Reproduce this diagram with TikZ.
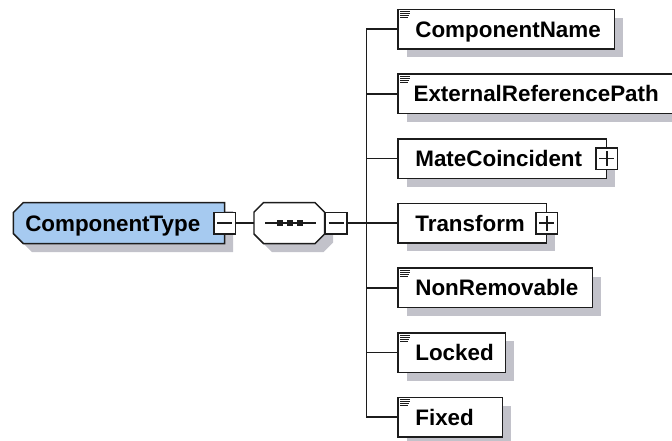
\documentclass[tikz,border=0pt]{standalone}
\usepackage{fontspec}
\setmainfont{Liberation Sans}
\usetikzlibrary{calc,shadows}

\definecolor{edge}{RGB}{28,28,28}
\definecolor{shadowgray}{RGB}{194,194,202}
\definecolor{ctfill}{RGB}{166,202,240}

\begin{document}
\begin{tikzpicture}[x=0.75pt,y=-0.75pt,
  edgeline/.style={draw=edge, line width=1.1pt},
  conn/.style={draw=edge, line width=1.1pt},
  anchorbox/.style={anchor=north west, inner sep=0pt, minimum height=40.4*0.75pt},
  elembox/.style={edgeline, fill=white, inner sep=0pt, anchor=north west,
    minimum height=39.5*0.75pt,
    drop shadow={shadow xshift=6.375pt, shadow yshift=-6.375pt, fill=shadowgray, opacity=1}},
  elemlabel/.style={font=\bfseries\fontsize{16.8}{18}\selectfont, text=black,
    inner sep=0pt, anchor=base west},
  pmbox/.style={edgeline, fill=white, minimum size=21.5*0.75pt, inner sep=0pt},
  iconline/.style={draw=edge, line width=0.8pt},
]
\useasboundingbox (0,0) rectangle (672,441);
\clip (0,0) rectangle (672,441);

% ---------- ComponentType (chamfered on the left) ----------
\node[anchorbox, minimum width=210.7*0.75pt] (ct) at (13.3,202.6) {};
\begin{scope}[transform canvas={shift={(6.375pt,-6.375pt)}}]
  \fill[shadowgray] ($(ct.north west)+(10,0)$) -- (ct.north east) -- (ct.south east)
    -- ($(ct.south west)+(10,0)$) -- ($(ct.south west)+(0,-10)$)
    -- ($(ct.north west)+(0,10)$) -- cycle;
\end{scope}
\filldraw[edgeline, fill=ctfill] ($(ct.north west)+(10,0)$) -- (ct.north east) -- (ct.south east)
    -- ($(ct.south west)+(10,0)$) -- ($(ct.south west)+(0,-10)$)
    -- ($(ct.north west)+(0,10)$) -- cycle;
\node[elemlabel] (ct-t) at ($(ct.west)+(11.7,8)$) {ComponentType};
\node[pmbox] (ctpm) at (ct.east) {};
\draw[edgeline] ($(ctpm.center)+(-7.5,0)$) -- ($(ctpm.center)+(7.5,0)$);

% ---------- sequence compositor (octagon) ----------
\node[anchorbox, minimum width=70*0.75pt] (seq) at (254,202.6) {};
\begin{scope}[transform canvas={shift={(6.375pt,-6.375pt)}}]
  \fill[shadowgray] ($(seq.north west)+(9.5,0)$) -- ($(seq.north east)+(-9.5,0)$)
    -- ($(seq.north east)+(0,9.5)$) -- ($(seq.south east)+(0,-9.5)$)
    -- ($(seq.south east)+(-9.5,0)$) -- ($(seq.south west)+(9.5,0)$)
    -- ($(seq.south west)+(0,-9.5)$) -- ($(seq.north west)+(0,9.5)$) -- cycle;
\end{scope}
\filldraw[edgeline, fill=white] ($(seq.north west)+(9.5,0)$) -- ($(seq.north east)+(-9.5,0)$)
    -- ($(seq.north east)+(0,9.5)$) -- ($(seq.south east)+(0,-9.5)$)
    -- ($(seq.south east)+(-9.5,0)$) -- ($(seq.south west)+(9.5,0)$)
    -- ($(seq.south west)+(0,-9.5)$) -- ($(seq.north west)+(0,9.5)$) -- cycle;
\draw[edge, line width=1pt] ($(seq.west)+(11,0)$) -- ($(seq.east)+(-9,0)$);
\foreach \dx in {23,33,43}
  \fill[edge] ($(seq.west)+(\dx,-3)$) rectangle +(6,6);
\node[pmbox, anchor=west] (seqpm) at (seq.east) {};
\draw[edgeline] ($(seqpm.center)+(-7.5,0)$) -- ($(seqpm.center)+(7.5,0)$);

% ---------- child elements ----------
\node[elembox, minimum width=216.7*0.75pt] (cn)  at (397.3,8.7)   {};
\node[elembox, minimum width=278.7*0.75pt] (erp) at (397.3,73.37) {};
\node[elembox, minimum width=208.2*0.75pt] (mc)  at (397.3,138.04) {};
\node[elembox, minimum width=148.2*0.75pt] (tf)  at (397.3,202.71) {};
\node[elembox, minimum width=194.4*0.75pt] (nr)  at (397.3,267.38) {};
\node[elembox, minimum width=107.7*0.75pt] (lk)  at (397.3,332.05) {};
\node[elembox, minimum width=104.4*0.75pt] (fx)  at (397.3,396.72) {};

\node[elemlabel] (cn-t)  at ($(cn.north west)+(17.8,28.6)$)  {ComponentName};
\node[elemlabel] (erp-t) at ($(erp.north west)+(16,28.6)$)   {ExternalReferencePath};
\node[elemlabel] (mc-t)  at ($(mc.north west)+(17.8,28.6)$)  {MateCoincident};
\node[elemlabel] (tf-t)  at ($(tf.north west)+(17.8,28.6)$)  {Transform};
\node[elemlabel] (nr-t)  at ($(nr.north west)+(17.8,28.6)$)  {NonRemovable};
\node[elemlabel] (lk-t)  at ($(lk.north west)+(17.8,28.6)$)  {Locked};
\node[elemlabel] (fx-t)  at ($(fx.north west)+(17.8,28.6)$)  {Fixed};

% simple-content marks in the upper left corner
\foreach \b in {cn,erp,nr,lk,fx}
  \foreach \k/\len in {0/10,1/10,2/9,3/8}
    \draw[iconline] ($(\b.north west)+(3,3+2*\k)$) -- ++(\len,0);

% expand buttons
\foreach \b in {mc,tf} {
  \node[pmbox] (\b pm) at (\b.east) {};
  \draw[edgeline] ($(\b pm.center)+(-7.5,0)$) -- ($(\b pm.center)+(7.5,0)$);
  \draw[edgeline] ($(\b pm.center)+(0,-7.5)$) -- ($(\b pm.center)+(0,7.5)$);
}

% ---------- connectors ----------
\coordinate (bus) at (366.7,222.8);
\draw[conn] (ctpm.east) -- (seq.west);
\draw[conn] (seqpm.east) -- (seqpm.east -| bus);
\draw[conn] (cn.west) -| (fx.west -| bus) -- (fx.west);
\foreach \b in {erp,mc,tf,nr,lk}
  \draw[conn] (\b.west -| bus) -- (\b.west);
\end{tikzpicture}
\end{document}
